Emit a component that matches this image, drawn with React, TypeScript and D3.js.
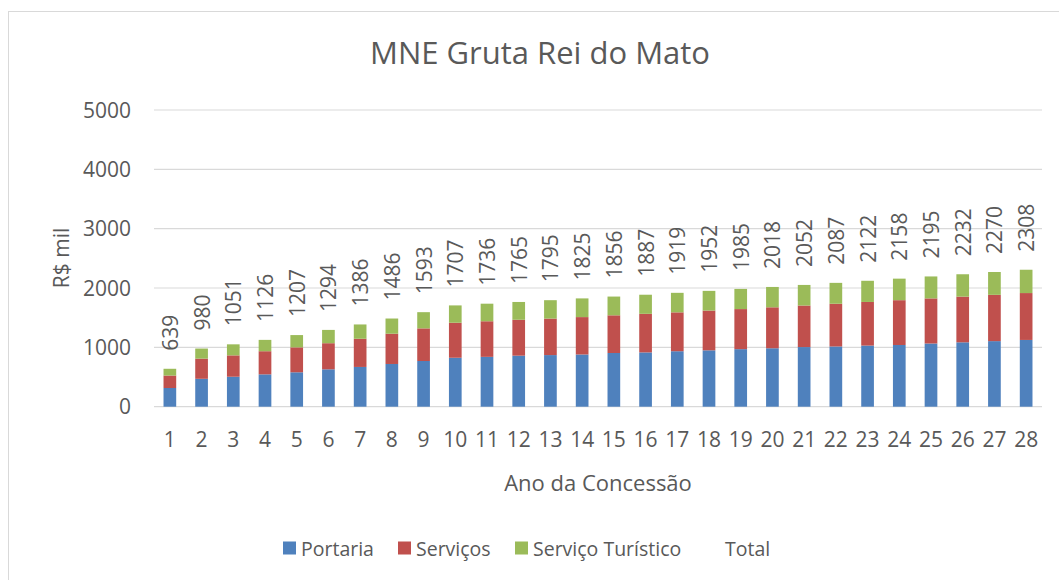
import React from 'react';
import * as d3 from 'd3';

// Chart data
const anos = d3.range(1, 29).map(String);
const portaria = [315, 470, 505, 545, 580, 630, 670, 720, 770, 825, 840, 860, 870, 880, 905, 915, 935, 950, 970, 985, 1005, 1015, 1030, 1040, 1065, 1085, 1105, 1125];
const servicos = [210, 340, 360, 390, 420, 440, 475, 510, 550, 590, 600, 605, 615, 630, 635, 650, 655, 670, 675, 690, 700, 720, 735, 755, 760, 770, 780, 790];
const servicoTuristico = [114, 170, 186, 191, 207, 224, 241, 256, 273, 292, 296, 300, 310, 315, 316, 322, 329, 332, 340, 343, 347, 352, 357, 363, 370, 377, 385, 393];
const totais = [639, 980, 1051, 1126, 1207, 1294, 1386, 1486, 1593, 1707, 1736, 1765, 1795, 1825, 1856, 1887, 1919, 1952, 1985, 2018, 2052, 2087, 2122, 2158, 2195, 2232, 2270, 2308];
const yTicks = [0, 1000, 2000, 3000, 4000, 5000];

const seriesKeys = ['Portaria', 'Serviços', 'Serviço Turístico'];
const colors: Record<string, string> = {
  Portaria: '#4F81BD',
  'Serviços': '#C0504D',
  'Serviço Turístico': '#9BBB59',
};

const FONT = "'Open Sans', sans-serif";
const TEXT = '#595959';

const App: React.FC = () => {
  const width = 1059;
  const height = 580;
  const plot = { left: 154, right: 1042, top: 110, bottom: 406.7 };

  const rows = anos.map((a, i) => ({
    ano: a,
    Portaria: portaria[i],
    'Serviços': servicos[i],
    'Serviço Turístico': servicoTuristico[i],
  }));

  const stacked = d3.stack<any>().keys(seriesKeys)(rows);

  const x = d3
    .scaleBand<string>()
    .domain(anos)
    .range([plot.left, plot.right])
    .paddingInner(0.6)
    .paddingOuter(0.3);

  const y = d3.scaleLinear().domain([0, 5000]).range([plot.bottom, plot.top]);

  const legendItems = [
    { label: 'Portaria', marker: 283, text: 301 },
    { label: 'Serviços', marker: 398, text: 416 },
    { label: 'Serviço Turístico', marker: 515, text: 533 },
  ];

  return (
    <svg
      width={width}
      height={height}
      style={{ position: 'absolute', left: 0, top: 0, display: 'block', background: '#fff' }}
      fontFamily={FONT}
    >
      {/* chart frame */}
      <rect x={8.5} y={11.5} width={1100} height={700} fill="#fff" stroke="#d9d9d9" strokeWidth={1} />

      {/* title */}
      <text x={540} y={64} textAnchor="middle" fontSize={31} fill={TEXT}>
        MNE Gruta Rei do Mato
      </text>

      {/* gridlines + y ticks */}
      {yTicks.map((t) => (
        <g key={t}>
          <line x1={plot.left} x2={plot.right} y1={y(t)} y2={y(t)} stroke="#d9d9d9" strokeWidth={1.2} />
          <text x={131} y={y(t)} dy="0.36em" textAnchor="end" fontSize={21} fill={TEXT}>
            {t}
          </text>
        </g>
      ))}

      {/* stacked bars */}
      {stacked.map((s) => (
        <g key={s.key} fill={colors[s.key]}>
          {s.map((d, i) => (
            <rect
              key={i}
              x={x(anos[i])}
              y={y(d[1])}
              width={x.bandwidth()}
              height={y(d[0]) - y(d[1])}
            />
          ))}
        </g>
      ))}

      {/* total labels */}
      {totais.map((t, i) => {
        const cx = (x(anos[i]) as number) + x.bandwidth() / 2;
        const cy = y(t) - 18;
        return (
          <text
            key={i}
            transform={`translate(${cx},${cy}) rotate(-90)`}
            dominantBaseline="central"
            fontSize={21}
            fill={TEXT}
          >
            {t}
          </text>
        );
      })}

      {/* x tick labels */}
      {anos.map((a) => (
        <text
          key={a}
          x={(x(a) as number) + x.bandwidth() / 2}
          y={446.5}
          textAnchor="middle"
          fontSize={21}
          fill={TEXT}
        >
          {a}
        </text>
      ))}

      {/* axis titles */}
      <text x={(plot.left + plot.right) / 2} y={491} textAnchor="middle" fontSize={22} fill={TEXT}>
        Ano da Concessão
      </text>
      <text transform="translate(69,258) rotate(-90)" textAnchor="middle" fontSize={21} fill={TEXT}>
        R$ mil
      </text>

      {/* legend */}
      {legendItems.map((l) => (
        <g key={l.label}>
          <rect x={l.marker} y={541.5} width={13} height={13} fill={colors[l.label]} />
          <text x={l.text} y={555.5} fontSize={19.5} fill={TEXT}>
            {l.label}
          </text>
        </g>
      ))}
      <text x={725} y={555.5} fontSize={19.5} fill={TEXT}>
        Total
      </text>
    </svg>
  );
};

export default App;
